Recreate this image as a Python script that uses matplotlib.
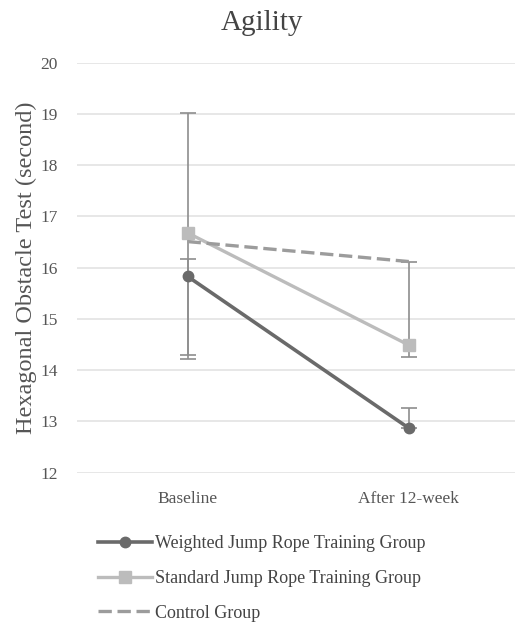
import matplotlib.pyplot as plt
import numpy as np

plt.rcParams['font.family'] = ['Liberation Serif', 'DejaVu Serif']

# data
times = ['Baseline', 'After 12-week']
weighted = [15.83, 12.87]
weighted_err_lo = [1.61, 0.0]
weighted_err_hi = [0.34, 0.39]
standard = [16.68, 14.49]
standard_err_lo = [2.38, 0.23]
standard_err_hi = [2.34, 1.63]
control = [16.51, 16.12]
labels = ['Weighted Jump Rope Training Group',
          'Standard Jump Rope Training Group',
          'Control Group']

x = np.arange(len(times))

fig = plt.figure(figsize=(5.21, 6.24), dpi=100)
ax = fig.add_axes([77 / 521, (624 - 472.7) / 624, 438 / 521, 410 / 624])

err_col = '#8e8e8e'
ax.errorbar(x, standard, yerr=[standard_err_lo, standard_err_hi], fmt='none',
            ecolor=err_col, elinewidth=1.2, capsize=6, capthick=1.2, zorder=2)
ax.errorbar(x, weighted, yerr=[weighted_err_lo, weighted_err_hi], fmt='none',
            ecolor=err_col, elinewidth=1.2, capsize=6, capthick=1.2, zorder=2)

l1, = ax.plot(x, weighted, color='#6a6a6a', lw=2.6, marker='o', ms=7.5, zorder=4)
l2, = ax.plot(x, standard, color='#bcbcbc', lw=2.4, marker='s', ms=8.5, zorder=3)
l3, = ax.plot(x, control, color='#9c9c9c', lw=2.4, ls=(0, (4, 1.7)), zorder=3)

ax.set_xlim(-0.5, 1.48)
ax.set_ylim(12, 20)
ax.set_yticks(range(12, 21))
ax.set_xticks(x)
ax.set_xticklabels(times)
ax.tick_params(length=0, labelsize=12.5, labelcolor='#555555')
ax.tick_params(axis='y', pad=14)
ax.tick_params(axis='x', pad=13)
ax.grid(axis='y', color='#e3e3e3', lw=1.2)
ax.set_axisbelow(True)
for s in ax.spines.values():
    s.set_visible(False)

ax.set_ylabel('Hexagonal Obstacle Test (second)', fontsize=17.5, color='#555555', labelpad=2)
fig.text(262 / 521, 1 - 23 / 624, 'Agility', ha='center', va='center', fontsize=21, color='#444444')

fig.legend([l1, l2, l3], labels, loc='upper left', bbox_to_anchor=(82 / 521, 1 - 519 / 624),
           frameon=False, fontsize=13, labelspacing=0.98, handlelength=3.0,
           handletextpad=0.15, labelcolor='#444444')

fig.savefig('out.png', dpi=100)
